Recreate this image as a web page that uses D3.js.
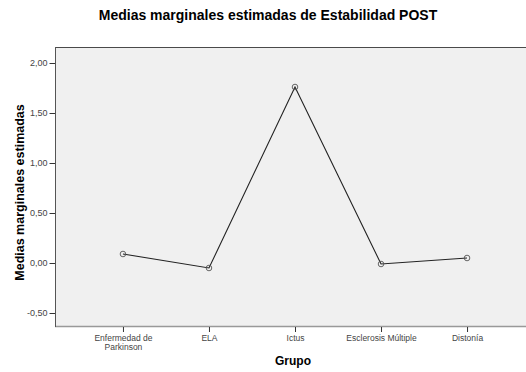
<!DOCTYPE html>
<html>
<head>
<meta charset="utf-8">
<script src="https://cdn.jsdelivr.net/npm/d3@7"></script>
<style>
  html, body { margin: 0; padding: 0; background: #fff; }
  svg { display: block; font-family: "Liberation Sans", Arial, sans-serif; }
</style>
</head>
<body>
<svg id="chart" width="526" height="372"></svg>
<script>
// Estimated marginal means of post-treatment stability by group
const groups = ["Enfermedad de\nParkinson", "ELA", "Ictus", "Esclerosis Múltiple", "Distonía"];
const means = [0.09, -0.05, 1.76, -0.01, 0.05];
const yTicks = [-0.5, 0, 0.5, 1.0, 1.5, 2.0];

const svg = d3.select("#chart");
const plot = { left: 55, right: 535, top: 47, bottom: 326 };

const x = d3.scalePoint()
  .domain(groups)
  .range([plot.left, plot.right])
  .padding(0.79);

const y = d3.scaleLinear()
  .domain([-0.63, 2.16])
  .range([plot.bottom, plot.top]);

const fmt = v => d3.format(".2f")(v).replace(".", ",").replace("−", "-");

// Plot area background
svg.append("rect")
  .attr("x", plot.left).attr("y", plot.top)
  .attr("width", plot.right - plot.left)
  .attr("height", plot.bottom - plot.top)
  .attr("fill", "#f0f0f0");

// Frame: dark top edge, lighter bottom edge
svg.append("line")
  .attr("x1", plot.left).attr("x2", plot.right)
  .attr("y1", plot.top + 0.5).attr("y2", plot.top + 0.5)
  .attr("stroke", "#4a4a4a").attr("stroke-width", 1);
svg.append("line")
  .attr("x1", plot.left).attr("x2", plot.right)
  .attr("y1", plot.bottom + 0.5).attr("y2", plot.bottom + 0.5)
  .attr("stroke", "#999").attr("stroke-width", 1.5);

// Y axis
const yAxis = svg.append("g")
  .attr("transform", `translate(${plot.left + 0.5},0)`)
  .call(d3.axisLeft(y).tickValues(yTicks).tickFormat(fmt).tickSize(6).tickSizeOuter(0));
yAxis.select(".domain").remove();
yAxis.selectAll(".tick line").attr("stroke", "#333");
yAxis.selectAll(".tick text")
  .attr("x", -8)
  .attr("fill", "#444")
  .style("font-size", "9px")
  .style("font-family", "'Liberation Sans', Arial, sans-serif");
svg.append("line")
  .attr("x1", plot.left + 0.5).attr("x2", plot.left + 0.5)
  .attr("y1", plot.top).attr("y2", plot.bottom + 1)
  .attr("stroke", "#555").attr("stroke-width", 1);

// X axis
const xAxis = svg.append("g")
  .attr("transform", `translate(0,${plot.bottom + 1})`)
  .call(d3.axisBottom(x).tickSize(5).tickSizeOuter(0).tickFormat(""));
xAxis.select(".domain").remove();
xAxis.selectAll(".tick line").attr("stroke", "#333");
xAxis.selectAll(".tick").each(function(d) {
  const lines = d.split("\n");
  const t = d3.select(this).append("text")
    .attr("text-anchor", "middle")
    .attr("fill", "#444")
    .style("font-size", "8.5px");
  lines.forEach((s, i) => {
    t.append("tspan").attr("x", 0).attr("y", 14 + i * 9).text(s);
  });
});

// Line through the group means
const line = d3.line()
  .x((d, i) => x(groups[i]))
  .y(d => y(d));
svg.append("path")
  .datum(means)
  .attr("d", line)
  .attr("fill", "none")
  .attr("stroke", "#222")
  .attr("stroke-width", 1.1);

svg.selectAll("circle.mark")
  .data(means)
  .join("circle")
  .attr("class", "mark")
  .attr("cx", (d, i) => x(groups[i]))
  .attr("cy", d => y(d))
  .attr("r", 2.8)
  .attr("fill", "none")
  .attr("stroke", "#555")
  .attr("stroke-width", 0.9);

// Titles
svg.append("text")
  .attr("x", 268).attr("y", 20)
  .attr("text-anchor", "middle")
  .style("font-size", "14px").style("font-weight", "bold")
  .attr("fill", "#000")
  .text("Medias marginales estimadas de Estabilidad POST");

svg.append("text")
  .attr("transform", `translate(24,${(plot.top + plot.bottom) / 2 + 6}) rotate(-90)`)
  .attr("text-anchor", "middle")
  .style("font-size", "12.5px").style("font-weight", "bold")
  .attr("fill", "#000")
  .text("Medias marginales estimadas");

svg.append("text")
  .attr("x", (plot.left + plot.right) / 2 - 2).attr("y", 365)
  .attr("text-anchor", "middle")
  .style("font-size", "12px").style("font-weight", "bold")
  .attr("fill", "#000")
  .text("Grupo");
</script>
</body>
</html>
